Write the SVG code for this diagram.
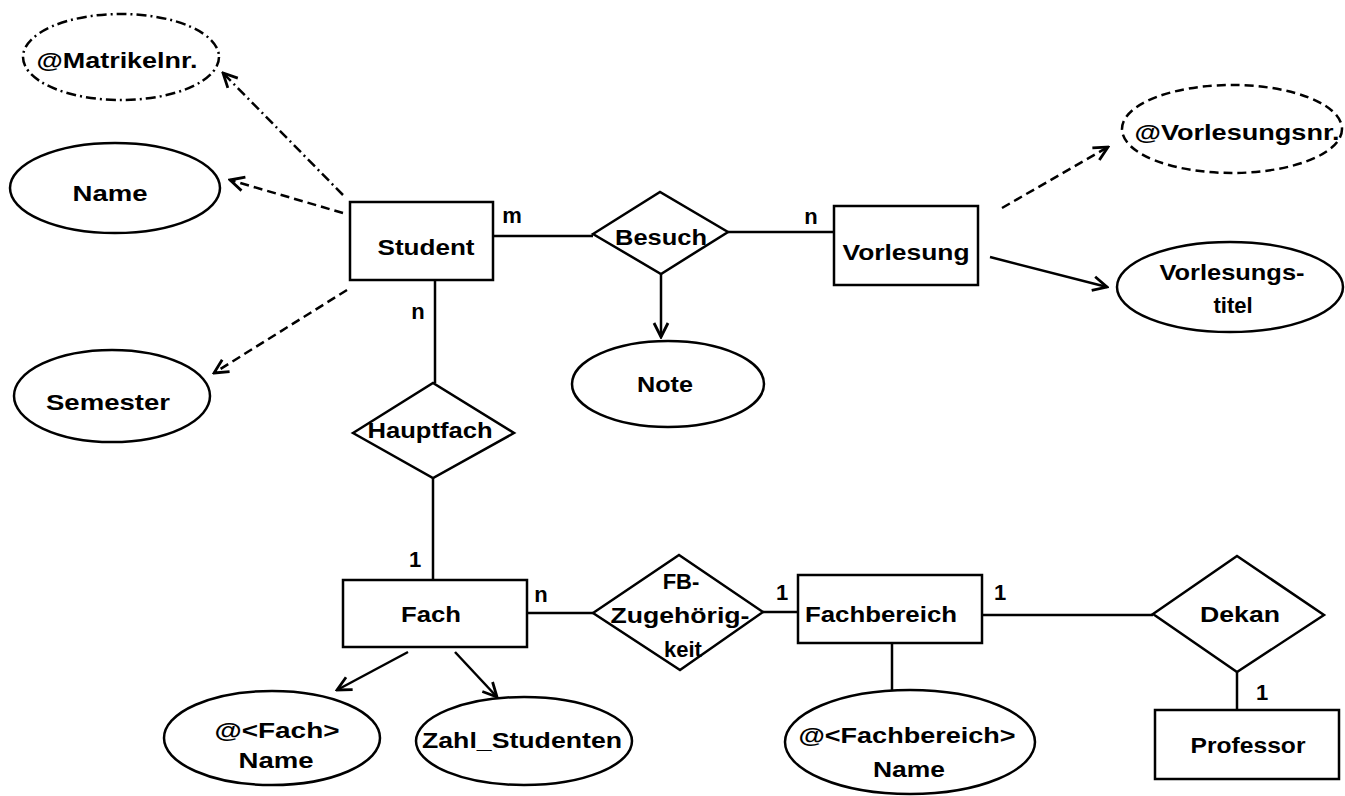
<svg xmlns="http://www.w3.org/2000/svg" width="1345" height="796" viewBox="0 0 1345 796">
<style>
  .shape { fill: #fff; stroke: #000; stroke-width: 2.5; }
  .dashed { stroke-dasharray: 9 5; }
  .dashdot { stroke-dasharray: 10 4 2 4; }
  .conn line { stroke: #000; stroke-width: 2.5; fill: none; }
  text { font-family: "Liberation Sans", Arial, sans-serif; font-weight: bold; font-size: 22px; fill: #000; text-anchor: middle; }
</style>
<defs>
  <marker id="arr" viewBox="0 0 18 18" refX="16" refY="9" markerWidth="18" markerHeight="18" orient="auto" markerUnits="userSpaceOnUse">
    <path d="M2,2 L16,9 L2,16" fill="none" stroke="#000" stroke-width="2.8"/>
  </marker>
</defs>
<rect width="1345" height="796" fill="#fff"/>

<g id="connectors" class="conn">
  <line class="dashdot" x1="343" y1="195" x2="223" y2="73" marker-end="url(#arr)"/>
  <line class="dashed" x1="343" y1="213" x2="230" y2="180" marker-end="url(#arr)"/>
  <line class="dashed" x1="347" y1="290" x2="214" y2="373" marker-end="url(#arr)"/>
  <line x1="493" y1="236" x2="593" y2="236"/>
  <line x1="728" y1="232" x2="834" y2="232"/>
  <line x1="661" y1="274" x2="661" y2="337" marker-end="url(#arr)"/>
  <line class="dashed" x1="1002" y1="208" x2="1108" y2="147" marker-end="url(#arr)"/>
  <line x1="990" y1="257" x2="1107" y2="287" marker-end="url(#arr)"/>
  <line x1="435" y1="280" x2="435" y2="383"/>
  <line x1="433" y1="478" x2="433" y2="580"/>
  <line x1="527" y1="613" x2="593" y2="613"/>
  <line x1="763" y1="612" x2="798" y2="612"/>
  <line x1="982" y1="615" x2="1153" y2="615"/>
  <line x1="1237" y1="672" x2="1237" y2="710"/>
  <line x1="892" y1="643" x2="892" y2="690"/>
  <line x1="408" y1="652" x2="337" y2="690" marker-end="url(#arr)"/>
  <line x1="455" y1="652" x2="497" y2="697" marker-end="url(#arr)"/>
  <text x="512" y="223">m</text>
  <text x="811" y="224">n</text>
  <text x="418" y="319">n</text>
  <text x="415" y="567">1</text>
  <text x="541" y="602">n</text>
  <text x="782" y="600">1</text>
  <text x="1000" y="600">1</text>
  <text x="1262" y="700">1</text>
</g>

<g id="matrikelnr">
  <ellipse class="shape dashdot" cx="121" cy="57" rx="98" ry="43"/>
  <text x="117" y="68" textLength="161" lengthAdjust="spacingAndGlyphs">@Matrikelnr.</text>
</g>
<g id="name-student">
  <ellipse class="shape" cx="115" cy="188" rx="105" ry="45"/>
  <text x="110" y="201" textLength="75" lengthAdjust="spacingAndGlyphs">Name</text>
</g>
<g id="semester">
  <ellipse class="shape" cx="112" cy="396" rx="98" ry="46"/>
  <text x="108" y="410" textLength="124" lengthAdjust="spacingAndGlyphs">Semester</text>
</g>
<g id="student">
  <rect class="shape" x="350" y="202" width="143" height="78"/>
  <text x="426" y="255" textLength="97" lengthAdjust="spacingAndGlyphs">Student</text>
</g>
<g id="besuch">
  <polygon class="shape" points="593,234 660,192 728,232 661,274"/>
  <text x="661" y="245" textLength="92" lengthAdjust="spacingAndGlyphs">Besuch</text>
</g>
<g id="note">
  <ellipse class="shape" cx="668" cy="384" rx="96" ry="43"/>
  <text x="665" y="392" textLength="56" lengthAdjust="spacingAndGlyphs">Note</text>
</g>
<g id="vorlesung">
  <rect class="shape" x="834" y="206" width="144" height="79"/>
  <text x="906" y="260" textLength="127" lengthAdjust="spacingAndGlyphs">Vorlesung</text>
</g>
<g id="vorlesungsnr">
  <ellipse class="shape dashed" cx="1232" cy="129" rx="110" ry="44"/>
  <text x="1237" y="140" textLength="205" lengthAdjust="spacingAndGlyphs">@Vorlesungsnr.</text>
</g>
<g id="vorlesungstitel">
  <ellipse class="shape" cx="1230" cy="287" rx="113" ry="45"/>
  <text x="1232" y="280" textLength="145" lengthAdjust="spacingAndGlyphs">Vorlesungs-</text>
  <text x="1233" y="313">titel</text>
</g>
<g id="hauptfach">
  <polygon class="shape" points="353,433 433,383 514,433 433,478"/>
  <text x="430" y="438" textLength="125" lengthAdjust="spacingAndGlyphs">Hauptfach</text>
</g>
<g id="fach">
  <rect class="shape" x="343" y="580" width="184" height="67"/>
  <text x="431" y="622" textLength="60" lengthAdjust="spacingAndGlyphs">Fach</text>
</g>
<g id="fb-zugehoerigkeit">
  <polygon class="shape" points="593,613 679,555 763,612 680,670"/>
  <text x="681" y="589">FB-</text>
  <text x="680" y="623" textLength="139" lengthAdjust="spacingAndGlyphs">Zugehörig-</text>
  <text x="683" y="657">keit</text>
</g>
<g id="fachbereich">
  <rect class="shape" x="798" y="575" width="184" height="68"/>
  <text x="881" y="622" textLength="152" lengthAdjust="spacingAndGlyphs">Fachbereich</text>
</g>
<g id="dekan">
  <polygon class="shape" points="1153,614 1237,556 1324,615 1237,672"/>
  <text x="1240" y="622" textLength="80" lengthAdjust="spacingAndGlyphs">Dekan</text>
</g>
<g id="professor">
  <rect class="shape" x="1155" y="710" width="184" height="69"/>
  <text x="1248" y="753" textLength="115" lengthAdjust="spacingAndGlyphs">Professor</text>
</g>
<g id="fach-name">
  <ellipse class="shape" cx="272" cy="738" rx="108" ry="47"/>
  <text x="277" y="738" textLength="125" lengthAdjust="spacingAndGlyphs">@&lt;Fach&gt;</text>
  <text x="276" y="768" textLength="75" lengthAdjust="spacingAndGlyphs">Name</text>
</g>
<g id="zahl-studenten">
  <ellipse class="shape" cx="524" cy="741" rx="108" ry="44"/>
  <text x="522" y="748" textLength="200" lengthAdjust="spacingAndGlyphs">Zahl_Studenten</text>
</g>
<g id="fachbereich-name">
  <ellipse class="shape" cx="910" cy="742" rx="125" ry="52"/>
  <text x="907" y="743" textLength="217" lengthAdjust="spacingAndGlyphs">@&lt;Fachbereich&gt;</text>
  <text x="909" y="777" textLength="72" lengthAdjust="spacingAndGlyphs">Name</text>
</g>
</svg>
